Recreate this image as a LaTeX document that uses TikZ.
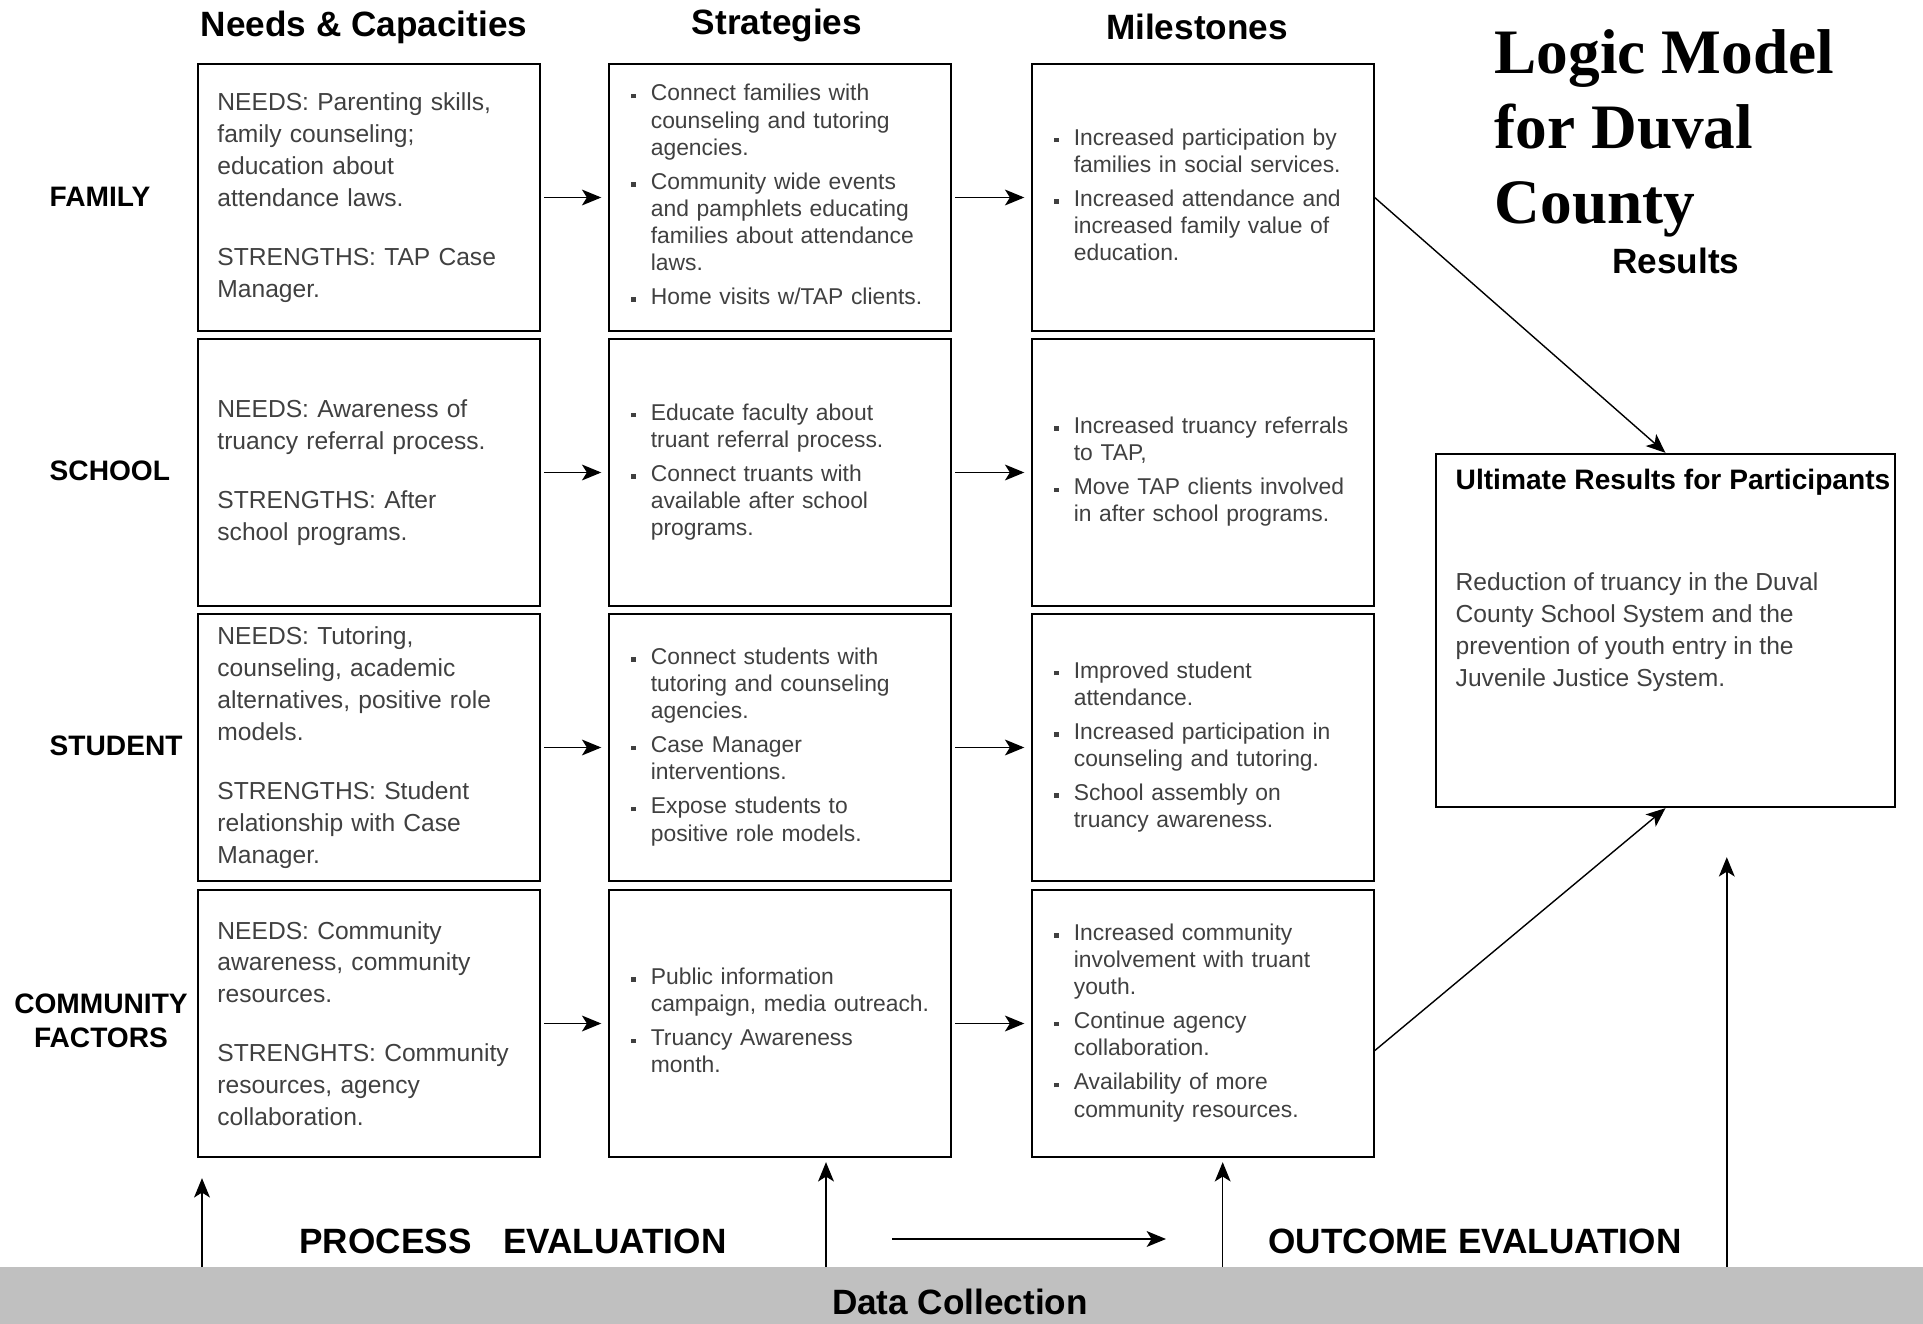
\documentclass[tikz,border=0pt]{standalone}
\usepackage{fontspec}
\setmainfont{Liberation Sans}
\newfontfamily\titlefont{Liberation Serif}
\usepackage{tikz}
\usetikzlibrary{arrows.meta,shapes}

\newcommand{\needfont}{\fontsize{7}{9.07}\selectfont}
\newcommand{\listfont}{\fontsize{6.5}{7.7}\selectfont\lineskip=0pt}
\newcommand{\headfont}{\fontsize{10}{12}\selectfont\bfseries}
\newcommand{\rowfont}{\fontsize{8}{9.7}\selectfont\bfseries}
\newcommand{\bitem}[1]{\par\addvspace{2pt}\noindent
  \makebox[0.85em][l]{\raisebox{0.22ex}{\rule{1.3pt}{1.3pt}}}%
  \begin{tabular}[t]{@{}l@{}}#1\end{tabular}\par}
\newcommand{\bend}{\par\nointerlineskip\noindent\rule{0pt}{4.4pt}\par}

\begin{document}
\begin{tikzpicture}[x=0.01cm,y=-0.01cm,>={Stealth[length=5.5pt,width=4.5pt,inset=1.4pt]}]

\definecolor{txt}{HTML}{404040} % body text grey
\definecolor{barg}{HTML}{C0C0C0} % data collection bar

\tikzstyle{cbox}=[rectangle,draw=black,line width=0.6pt,text=txt,
	minimum width=3.41cm,minimum height=2.67cm,align=left]
\tikzstyle{needbox}=[cbox,font=\needfont,inner xsep=0.19cm,text width=3.03cm]
\tikzstyle{listbox}=[cbox,font=\listfont,inner xsep=0.22cm,inner ysep=0pt,
	text width=2.97cm,execute at end node=\bend]
\tikzstyle{head}=[font=\headfont]
\tikzstyle{rowlbl}=[font=\rowfont,anchor=west,inner sep=0pt]
\tikzstyle{flow}=[->,line width=0.45pt,shorten <=1pt,shorten >=2pt]
\tikzstyle{up}=[->,line width=0.45pt]
\tikzstyle{diag}=[->,line width=0.4pt]

  \useasboundingbox (0,0) rectangle (1923,1324);

  %% column headers
  \node (hneed)  at (364,27)   [head] {Needs \& Capacities};
  \node (hstrat) at (777,25)   [head] {Strategies};
  \node (hmile)  at (1197,27)  [head] {Milestones};

  %% row labels
  \node (lfam)  at (49,197)  [rowlbl] {FAMILY};
  \node (lsch)  at (49,471)  [rowlbl] {SCHOOL};
  \node (lstu)  at (49,746)  [rowlbl] {STUDENT};
  \node (lcom)  at (101,1021) [font=\rowfont,align=center,inner sep=0pt] {COMMUNITY\\FACTORS};

  %% family
  \node (fneed)  at (369,197.5)  [needbox]
        {NEEDS: Parenting skills,\\ family counseling;\\ education about\\ attendance laws.\\[7.7pt]
         STRENGTHS: TAP Case\\ Manager.};
  \node (fstrat) at (780,197.5)  [listbox]
        {\bitem{Connect families with\\ counseling and tutoring\\ agencies.}
         \bitem{Community wide events\\ and pamphlets educating\\ families about attendance\\ laws.}
         \bitem{Home visits w/TAP clients.}};
  \node (fmile)  at (1203,197.5) [listbox]
        {\bitem{Increased participation by\\ families in social services.}
         \bitem{Increased attendance and\\ increased family value of\\ education.}};

  %% school
  \node (sneed)  at (369,472.5)  [needbox]
        {NEEDS: Awareness of\\ truancy referral process.\\[7.7pt]
         STRENGTHS: After\\ school programs.};
  \node (sstrat) at (780,472.5)  [listbox]
        {\bitem{Educate faculty about\\ truant referral process.}
         \bitem{Connect truants with\\ available after school\\ programs.}};
  \node (smile)  at (1203,472.5) [listbox]
        {\bitem{Increased truancy referrals\\ to TAP,}
         \bitem{Move TAP clients involved\\ in after school programs.}};

  %% student
  \node (tneed)  at (369,747.5)  [needbox]
        {NEEDS: Tutoring,\\ counseling, academic\\ alternatives, positive role\\ models.\\[7.7pt]
         STRENGTHS: Student\\ relationship with Case\\ Manager.};
  \node (tstrat) at (780,747.5)  [listbox]
        {\bitem{Connect students with\\ tutoring and counseling\\ agencies.}
         \bitem{Case Manager\\ interventions.}
         \bitem{Expose students to\\ positive role models.}};
  \node (tmile)  at (1203,747.5) [listbox]
        {\bitem{Improved student\\ attendance.}
         \bitem{Increased participation in\\ counseling and tutoring.}
         \bitem{School assembly on\\ truancy awareness.}};

  %% community
  \node (cneed)  at (369,1023.5)  [needbox]
        {NEEDS: Community\\ awareness, community\\ resources.\\[7.7pt]
         STRENGHTS: Community\\ resources, agency\\ collaboration.};
  \node (cstrat) at (780,1023.5)  [listbox]
        {\bitem{Public information\\ campaign, media outreach.}
         \bitem{Truancy Awareness\\ month.}};
  \node (cmile)  at (1203,1023.5) [listbox]
        {\bitem{Increased community\\ involvement with truant\\ youth.}
         \bitem{Continue agency\\ collaboration.}
         \bitem{Availability of more\\ community resources.}};

  %% title and results
  \node (title) at (1494,133) [anchor=west,align=left,inner sep=0pt,
        font=\titlefont\bfseries\fontsize{18}{21.3}\selectfont]
        {Logic Model\\ for Duval\\ County};
  \node (hres) at (1676,261) [head] {Results};

  \node (ult) at (1665.5,630.5) [rectangle,draw=black,line width=0.6pt,
        minimum width=4.59cm,minimum height=3.53cm] {};
  \node (ulttitle) at (1455,482) [anchor=west,inner sep=0pt,
        font=\fontsize{8}{9.6}\selectfont\bfseries] {Ultimate Results for Participants};
  \node (ultbody) at (1455,632) [anchor=west,inner sep=0pt,align=left,
        text=txt,font=\needfont]
        {Reduction of truancy in the Duval\\ County School System and the\\
         prevention of youth entry in the\\ Juvenile Justice System.};

  %% data collection bar
  \node (bar) at (961.5,1295.5) [rectangle,fill=barg,inner sep=0pt,
        minimum width=19.23cm,minimum height=0.57cm] {};
  \node (dc) at (960,1302) [head] {Data Collection};
  \node (pe) at (513,1241) [head] {PROCESS\hspace{0.9em}EVALUATION};
  \node (oe) at (1475,1241) [head] {OUTCOME EVALUATION};

  \coordinate (foot1) at (202,1267);
  \coordinate (foot2) at (826,1267);
  \coordinate (foot3) at (1222.7,1267);
  \coordinate (foot4) at (1726.8,1267);
  \coordinate (hs) at (892,1239);
  \coordinate (he) at (1166,1239);

  \path (fneed)  edge [flow] (fstrat)
        (fstrat) edge [flow] (fmile)
        (sneed)  edge [flow] (sstrat)
        (sstrat) edge [flow] (smile)
        (tneed)  edge [flow] (tstrat)
        (tstrat) edge [flow] (tmile)
        (cneed)  edge [flow] (cstrat)
        (cstrat) edge [flow] (cmile)

        (fmile.east)  edge [diag] (ult.north)
        (cmile.-9.5)  edge [diag] (ult.south)

        (foot1) edge [up,shorten >=0.2cm]  (foot1 |- cneed.south)
        (foot2) edge [up,shorten >=0.04cm] (foot2 |- cstrat.south)
        (foot3) edge [up,shorten >=0.04cm] (foot3 |- cmile.south)
        (foot4) edge [up,shorten >=0.49cm] (foot4 |- ult.south)
        (hs)    edge [up] (he);

\end{tikzpicture}
\end{document}
